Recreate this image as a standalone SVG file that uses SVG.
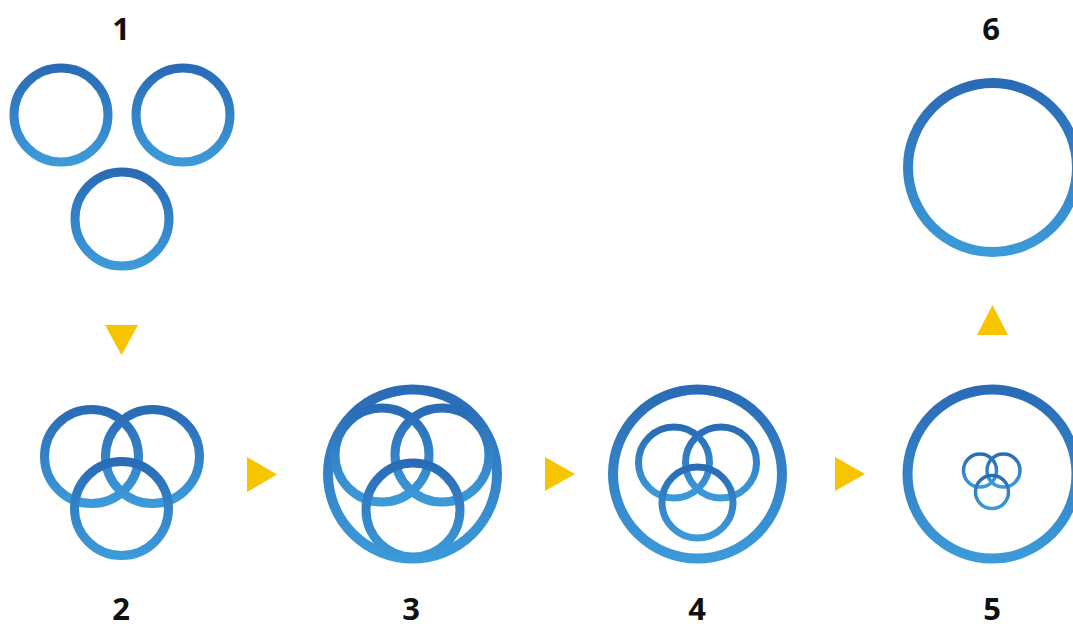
<svg xmlns="http://www.w3.org/2000/svg" width="1073" height="629" viewBox="0 0 1073 629">
  <defs>
    <linearGradient id="blue" x1="0" y1="0" x2="0" y2="1">
      <stop offset="0" stop-color="#2a6bb6"/>
      <stop offset="1" stop-color="#3c9ad9"/>
    </linearGradient>
    <style>
      .ring { fill: none; stroke: url(#blue); }
      .s9 { stroke-width: 9; }
      .s10 { stroke-width: 10; }
      .s7 { stroke-width: 7; }
      .s35 { stroke-width: 3.5; }
      .lbl { font-family: "Open Sans", "Liberation Sans", sans-serif; font-weight: 700; font-size: 31px; fill: #111; text-anchor: middle; }
      .arrow { fill: #f7c400; }
    </style>
  </defs>
  <rect width="1073" height="629" fill="#ffffff"/>

  <g id="step1">
    <text class="lbl" x="121" y="40">1</text>
    <circle class="ring s9" cx="61" cy="115" r="47"/>
    <circle class="ring s9" cx="183" cy="115" r="47"/>
    <circle class="ring s9" cx="122" cy="219" r="47"/>
  </g>

  <g id="step2">
    <circle class="ring s9" cx="91.5" cy="456.5" r="47"/>
    <circle class="ring s9" cx="152.5" cy="456.5" r="47"/>
    <circle class="ring s9" cx="121.5" cy="508.5" r="47"/>
    <text class="lbl" x="121" y="620">2</text>
  </g>

  <g id="step3">
    <circle class="ring s10" cx="412.5" cy="474" r="84.5"/>
    <circle class="ring s9" cx="382" cy="455" r="47"/>
    <circle class="ring s9" cx="442" cy="455" r="47"/>
    <circle class="ring s9" cx="413" cy="510" r="47"/>
    <text class="lbl" x="411" y="620">3</text>
  </g>

  <g id="step4">
    <circle class="ring s10" cx="697.5" cy="474" r="84.5"/>
    <circle class="ring s7" cx="674" cy="462.5" r="35.5"/>
    <circle class="ring s7" cx="721" cy="462.5" r="35.5"/>
    <circle class="ring s7" cx="697.5" cy="502.5" r="35.5"/>
    <text class="lbl" x="697" y="620">4</text>
  </g>

  <g id="step5">
    <circle class="ring s10" cx="992" cy="474" r="84.5"/>
    <circle class="ring s35" cx="980" cy="470.5" r="16.5"/>
    <circle class="ring s35" cx="1003.5" cy="470.5" r="16.5"/>
    <circle class="ring s35" cx="992" cy="492" r="16.5"/>
    <text class="lbl" x="992" y="620">5</text>
  </g>

  <g id="step6">
    <text class="lbl" x="991" y="40">6</text>
    <circle class="ring s10" cx="992.5" cy="167.5" r="84.5"/>
  </g>

  <g id="connectors">
    <polygon class="arrow" points="105,325 138,325 121.5,355"/>
    <polygon class="arrow" points="247,457 247,492 277,474.5"/>
    <polygon class="arrow" points="545,457 545,491 575,474"/>
    <polygon class="arrow" points="835,457 835,491 865,474"/>
    <polygon class="arrow" points="977,335 1008,335 992.5,305"/>
  </g>
</svg>
